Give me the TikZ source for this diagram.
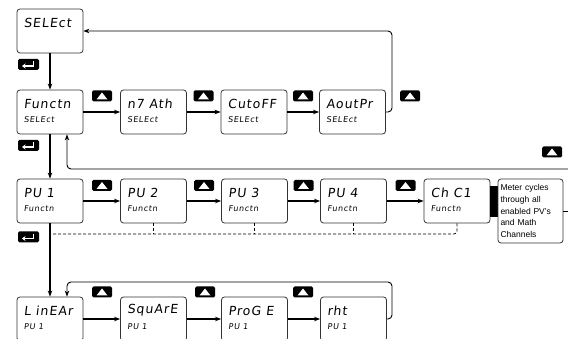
\documentclass[tikz,border=0pt]{standalone}
\usepackage{fontspec}
\setmainfont{Liberation Sans}
\newfontfamily\lcdfont[FakeSlant=0.12,LetterSpace=8]{DejaVu Sans}
\usepackage{tikz}
\usetikzlibrary{arrows.meta, positioning}

% one display box: name, x, y, upper line, lower line
\newcommand{\lcdbox}[5]{%
  \node[dispbox] (#1) at (#2,#3) {};
  \node[toptext, anchor=west] (#1-top) at ([xshift=7pt,yshift=-14pt]#1.north west) {#4};
  \node[subtext, anchor=west] (#1-sub) at ([xshift=7pt,yshift=-30pt]#1.north west) {#5};
}

\begin{document}
\begin{tikzpicture}[x=1pt, y=-1pt,
  dispbox/.style={draw=black!80, line width=0.8pt, rounded corners=3pt, fill=white,
    minimum width=66pt, minimum height=44pt, inner sep=0pt},
  toptext/.style={font=\lcdfont\fontsize{12.5}{12.5}\selectfont, inner sep=0pt},
  subtext/.style={font=\lcdfont\fontsize{8}{8}\selectfont, inner sep=0pt},
  flow/.style={line width=1.3pt, -{Stealth[length=6pt,width=4.5pt]}},
  loopline/.style={line width=0.9pt, rounded corners=4pt, -{Stealth[length=6pt,width=4.5pt]}},
  dashline/.style={line width=0.8pt, dash pattern=on 3pt off 2pt, rounded corners=3pt},
  upkey/.style={fill=black, rounded corners=1.5pt, minimum width=20pt, minimum height=11pt, inner sep=0pt,
    path picture={\fill[white, sharp corners]
      ([xshift=-5.5pt,yshift=-3.5pt]path picture bounding box.center) --
      ([xshift=5.5pt,yshift=-3.5pt]path picture bounding box.center) --
      ([yshift=3.5pt]path picture bounding box.center) -- cycle;}},
  enterkey/.style={fill=black, rounded corners=1.5pt, minimum width=21pt, minimum height=11pt, inner sep=0pt,
    path picture={\draw[white, line width=1.2pt, sharp corners, -{Stealth[length=3.5pt,width=5pt]}]
      ([xshift=5pt,yshift=3pt]path picture bounding box.center) --
      ([xshift=5pt,yshift=-1.5pt]path picture bounding box.center) --
      ([xshift=-6.5pt,yshift=-1.5pt]path picture bounding box.center);}},
  notebox/.style={draw=black!80, line width=0.8pt, rounded corners=3pt, fill=white,
    minimum width=65pt, minimum height=64pt, text width=60pt, inner sep=2pt, align=left,
    font=\fontsize{8.5}{11.7}\selectfont}
]
\useasboundingbox (0,0) rectangle (568,339);

% display boxes
\lcdbox{sel}{50}{31}{SELEct}{}
\lcdbox{fun}{50}{112}{Functn}{SELEct}
\lcdbox{mat}{153.5}{112}{n7 Ath}{SELEct}
\lcdbox{cut}{254}{112}{CutoFF}{SELEct}
\lcdbox{aout}{352.5}{112}{AoutPr}{SELEct}
\lcdbox{pv1}{50}{201}{PU 1}{Functn}
\lcdbox{pv2}{153.5}{201}{PU 2}{Functn}
\lcdbox{pv3}{254.5}{201}{PU 3}{Functn}
\lcdbox{pv4}{353.5}{201}{PU 4}{Functn}
\lcdbox{chc}{457}{201}{Ch C1}{Functn}
\lcdbox{lin}{50}{319}{L inEAr}{PU 1}
\lcdbox{sqr}{153.5}{319}{SquArE}{PU 1}
\lcdbox{prg}{254.5}{319}{ProG E}{PU 1}
\lcdbox{rht}{353.5}{319}{rht}{PU 1}

\node[fill=black, minimum width=8pt, minimum height=31pt, inner sep=0pt] (bar) at (494,201.5) {};
\node[notebox] (note) at (530.5,211) {Meter cycles\\through all\\enabled PV's\\and Math\\Channels};

% keys
\node[enterkey] (e1) at (28.5,64.5) {};
\node[enterkey] (e2) at (28.5,145.5) {};
\node[enterkey] (e3) at (28.5,237) {};
\node[upkey] (u1) at (102,96) {};
\node[upkey] (u2) at (203.5,96) {};
\node[upkey] (u3) at (303,96) {};
\node[upkey] (u4) at (410,96) {};
\node[upkey] (u5) at (102,185.5) {};
\node[upkey] (u6) at (204,185.5) {};
\node[upkey] (u7) at (303.5,185.5) {};
\node[upkey] (u8) at (405.5,185.5) {};
\node[upkey] (u9) at (552,152) {};
\node[upkey] (u10) at (102,292) {};
\node[upkey] (u11) at (205,292) {};
\node[upkey] (u12) at (303,292) {};

% connectors
\coordinate (topr) at (392,31);
\coordinate (midr) at (568,169);
\coordinate (dashl) at (50,234);
\coordinate (lowr) at (392,282);

\draw[flow] (sel) -- (fun);
\draw[flow] (fun) -- (mat);
\draw[flow] (mat) -- (cut);
\draw[flow] (cut) -- (aout);
\draw[loopline] (aout.east) -| (topr) -- (sel.east);

\draw[flow] (fun) -- (pv1);
\draw[flow] (pv1) -- (pv2);
\draw[flow] (pv2) -- (pv3);
\draw[flow] (pv3) -- (pv4);
\draw[flow] (pv4) -- (chc);
\draw[line width=0.9pt] (note.east) -- (note.east -| midr);
\draw[loopline] (midr) -| ([xshift=17pt]fun.south);

\draw[dashline] (chc.south) |- (dashl);
\draw[dashline] (pv2.south) -- (pv2.south |- dashl);
\draw[dashline] (pv3.south) -- (pv3.south |- dashl);
\draw[dashline] (pv4.south) -- (pv4.south |- dashl);

\draw[flow] (pv1) -- (lin);
\draw[flow] (lin) -- (sqr);
\draw[flow] (sqr) -- (prg);
\draw[flow] (prg) -- (rht);
\draw[loopline] (rht.east) -| (lowr) -| ([xshift=17pt]lin.north);
\end{tikzpicture}
\end{document}
